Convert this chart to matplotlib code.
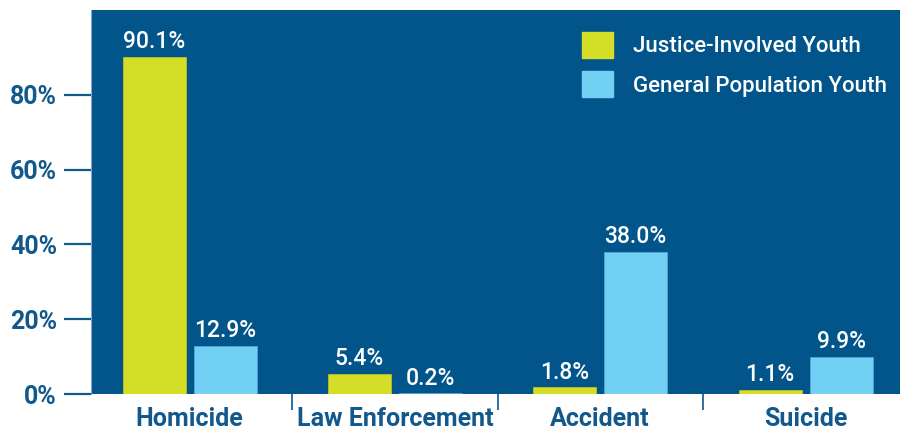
import matplotlib
matplotlib.use("Agg")
import matplotlib.pyplot as plt
from matplotlib.patches import Patch
import numpy as np

categories = ["Homicide", "Law Enforcement", "Accident", "Suicide"]
justice = [90.1, 5.4, 1.8, 1.1]
general = [12.9, 0.2, 38.0, 9.9]
series_names = ["Justice-Involved Youth", "General Population Youth"]
yticks = [0, 20, 40, 60, 80]

BG = "#01558A"
YEL = "#D4DE27"
LBL = "#72D0F4"
TXT = "#11588C"

plt.rcParams["font.family"] = ["Roboto", "DejaVu Sans"]

fig = plt.figure(figsize=(9, 4.3), dpi=100)
ax = fig.add_axes([91/900, 36/430, 1 - 91/900, (394-10)/430])
ax.set_facecolor(BG)

x = np.arange(len(categories))
w = 0.307
off = 0.173
b1 = ax.bar(x - off, justice, w, color=YEL, edgecolor="#B9C41E", linewidth=0.6)
b2 = ax.bar(x + off, general, w, color=LBL, edgecolor="#4FA9D6", linewidth=0.6)

for bars, vals in ((b1, justice), (b2, general)):
    for r, v in zip(bars, vals):
        ax.text(r.get_x() + r.get_width()/2, v + 1.0, f"{v:.1f}%", ha="center", va="bottom",
                color="white", fontsize=16.5, fontweight=500)

ax.set_xlim(-0.48, 3.46)
ax.set_ylim(0, 102.7)
ax.set_yticks(yticks)
ax.set_yticklabels([f"{t}%" for t in yticks], color=TXT, fontsize=18, fontweight="bold")
ax.tick_params(axis="y", length=19.5, width=1.6, color=TXT, pad=5)

ax.set_xticks(x)
ax.set_xticklabels(categories, color=TXT, fontsize=18, fontweight="bold")
ax.tick_params(axis="x", length=0, pad=9)
# separators between categories
ax.set_xticks([0.5, 1.5, 2.5], minor=True)
ax.tick_params(axis="x", which="minor", length=11.5, width=1.2, color=TXT, direction="out")

for s in ["top", "right", "bottom"]:
    ax.spines[s].set_visible(False)
ax.spines["left"].set_color("#7FA9C9")
ax.spines["left"].set_linewidth(0.8)

handles = [Patch(facecolor=YEL, edgecolor=YEL), Patch(facecolor=LBL, edgecolor=LBL)]
leg = ax.legend(handles, series_names, loc="upper left",
                bbox_to_anchor=((582-91)/809, (394-32)/384),
                frameon=False, fontsize=16, labelcolor="white",
                handlelength=1.4, handleheight=1.4, handletextpad=0.9, labelspacing=0.62,
                borderaxespad=0, borderpad=0)
for t in leg.get_texts():
    t.set_fontweight(500)

fig.savefig("out.png", dpi=100, facecolor="white")
